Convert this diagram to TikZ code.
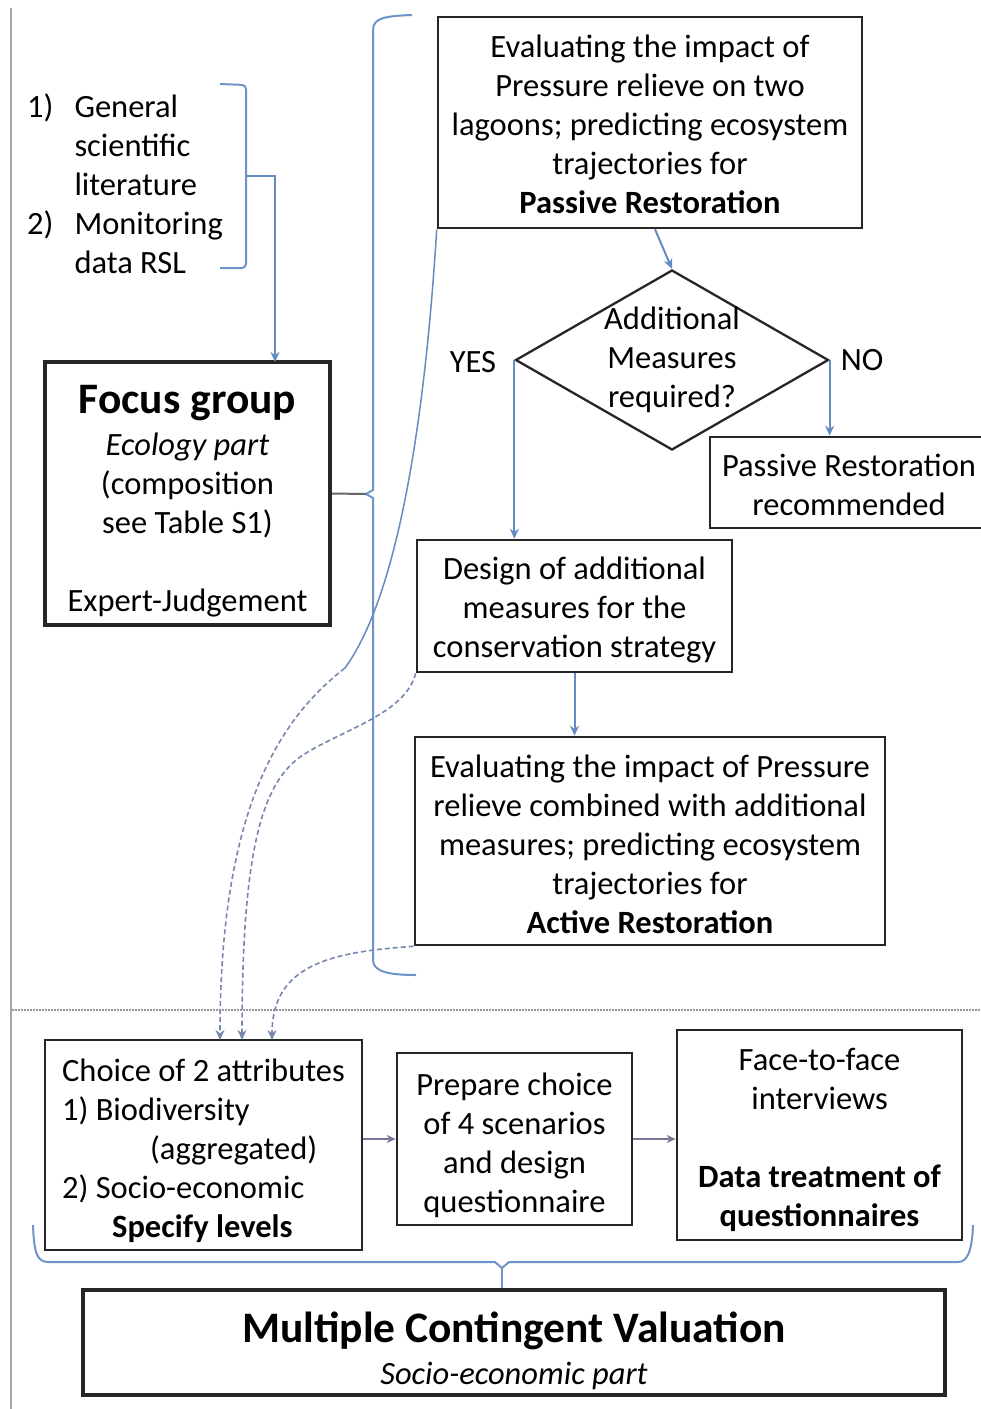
\documentclass[tikz,border=0pt]{standalone}
\usepackage{fontspec}
\setmainfont{Carlito}
\usetikzlibrary{shapes.geometric,arrows.meta,calc}
\definecolor{conn}{RGB}{100,140,195}
\definecolor{dashc}{RGB}{118,136,172}
\definecolor{brc}{RGB}{110,148,200}
\definecolor{parrc}{RGB}{120,120,150}
\newcommand\ft{\fontsize{32.5}{39}\selectfont}
\newcommand\bigft{\fontsize{43.5}{46}\selectfont}
\begin{document}
\begin{tikzpicture}[x=1pt,y=-1pt,
  box/.style={draw=black!85, line width=2.6pt, inner sep=0pt},
  thickbox/.style={box, line width=3.6pt},
  txt/.style={font=\ft, align=center, inner sep=0pt},
  arr/.style={draw=conn, line width=2pt, -{Stealth[length=10pt,width=9pt]}},
  parr/.style={draw=parrc, line width=2pt, -{Stealth[length=9pt,width=8pt]}},
  dasharr/.style={draw=dashc, line width=1.6pt, dash pattern=on 5pt off 3pt, -{Stealth[length=10pt,width=9pt]}},
  thinline/.style={draw=conn, line width=1.5pt},
  brace/.style={draw=brc, line width=2pt}
]
\fill[white] (0,0) rectangle (981,1409);
\useasboundingbox (0,0) rectangle (981,1409);

% frame line and separator
\draw[gray!70, line width=1.5pt] (11,8) -- (11,1409);
\draw[gray!80, line width=1.3pt, dash pattern=on 1.5pt off 1.5pt] (12,1010) -- (981,1010);

% --- upper (ecology) part
\node[txt, anchor=north west] (src) at (27,90) {\begin{tabular}{@{}l@{\hspace{21pt}}l@{}}1) & General\\ & scientific\\ & literature\\2) & Monitoring\\ & data RSL\end{tabular}};

\node[thickbox, minimum width=285pt, minimum height=263pt] (focus) at (187.5,493.5) {};
\node[txt] (focust) at ($(focus.center)+(0,8)$)
  {{\bigft\textbf{Focus group}}\\[3pt]\textit{Ecology part}\\(composition\\see Table S1)\\[39pt]Expert-Judgement};

\node[box, minimum width=424pt, minimum height=211pt] (top) at (650,122.5) {};
\node[txt] (topt) at ($(top.center)+(0,2)$)
  {Evaluating the impact of\\Pressure relieve on two\\lagoons; predicting ecosystem\\trajectories for\\\textbf{Passive Restoration}};

\node[draw=black!85, line width=2.3pt, diamond, minimum width=313pt, minimum height=180pt, inner sep=0pt] (dia) at (672,360) {};
\node[txt] (diat) at ($(dia.center)+(0,0)$) {Additional\\Measures\\required?};
\node[txt] (yes) at (473,362) {YES};
\node[txt] (no) at (862,360) {NO};

\node[box, minimum width=272pt, minimum height=91pt] (prec) at (846,482.5) {};
\node[txt] (prect) at ($(prec.center)+(3,2)$) {Passive Restoration\\recommended};

\node[box, minimum width=315pt, minimum height=132pt] (design) at (574.5,606) {};
\node[txt] (designt) at ($(design.center)+(0,4)$)
  {Design of additional\\measures for the\\conservation strategy};

\node[box, minimum width=470pt, minimum height=208pt] (active) at (650,841) {};
\node[txt] (activet) at ($(active.center)+(0,3)$)
  {Evaluating the impact of Pressure\\relieve combined with additional\\measures; predicting ecosystem\\trajectories for\\\textbf{Active Restoration}};

% bracket of the sources
\draw[brace, rounded corners=4pt] (220,84) -- (246,85) -- (246,268) -- (220,268);
\coordinate (srcnib) at (246,176);
\coordinate (fin) at (275,362);
\draw[arr] (srcnib) -| (fin);

% big brace around the ecology steps
\coordinate (bnibL) at (366,494);
\draw[brace] (412,15) .. controls (385,16) and (373,18) .. (373,30) -- (373,490) -- (bnibL) -- (373,498)
  -- (373,960) .. controls (373,972) and (390,975) .. (416,975);
\draw[draw=gray!80!black, line width=2pt] (focus.east) -- (bnibL);

% flow in the ecology part
\draw[arr] ([xshift=5pt]top.south) -- (dia.north);
\draw[arr] (dia.west) -- (dia.west |- design.north);
\draw[arr] (dia.east) -- (dia.east |- prec.north);
\draw[arr] (design.south) -- (design.south |- active.north);

% --- lower (socio-economic) part
\node[box, minimum width=317pt, minimum height=210pt] (choice) at (203.5,1145) {};
\node[txt, align=left] (choicet) at ($(choice.center)+(0,6)$)
  {Choice of 2 attributes\\1) Biodiversity\\\hspace*{88pt}(aggregated)\\2) Socio-economic\\\hspace*{50pt}\textbf{Specify levels}};
\node[box, minimum width=235pt, minimum height=172pt] (prep) at (514.5,1139) {};
\node[txt] (prept) at ($(prep.center)+(0,6)$)
  {Prepare choice\\of 4 scenarios\\and design\\questionnaire};
\node[box, minimum width=285pt, minimum height=210pt] (face) at (819.5,1135) {};
\node[txt] (facet) at ($(face.center)+(0,5)$)
  {Face-to-face\\interviews\\[39pt]\textbf{Data treatment of}\\\textbf{questionnaires}};
\node[thickbox, minimum width=862pt, minimum height=105pt] (mcv) at (514,1342.5) {};
\node[txt] (mcvt) at ($(mcv.center)+(0,8)$)
  {{\bigft\textbf{Multiple Contingent Valuation}}\\[3pt]\textit{Socio-economic part}};

\draw[parr] (choice.east |- prep.west) -- (prep.west);
\draw[parr] (prep.east) -- (prep.east -| face.west);

% curves from the ecology part to the attributes
\coordinate (a1) at (345,668);
\coordinate (b1) at (300,757);
\coordinate (t1) at (220,1040);
\coordinate (t2) at (242,1040);
\coordinate (t3) at (272,1040);
\draw[thinline] (top.south west) .. controls (425,420) and (398,595) .. (a1);
\draw[dasharr] (a1) .. controls (285,715) and (220,800) .. (t1);
\draw[dasharr] (design.south west) .. controls (405,715) and (340,730) .. (b1) .. controls (262,785) and (242,850) .. (t2);
\draw[dasharr] (active.south west) .. controls (330,952) and (272,965) .. (t3);

% bottom brace
\coordinate (bnib) at (502,1268);
\draw[brace] (33,1225) .. controls (34,1250) and (36,1262) .. (48,1262) -- (495,1262) -- (bnib) -- (509,1262)
  -- (958,1262) .. controls (968,1262) and (972,1250) .. (973,1225);
\draw[brace] (bnib) -- (bnib |- mcv.north);
\end{tikzpicture}
\end{document}
